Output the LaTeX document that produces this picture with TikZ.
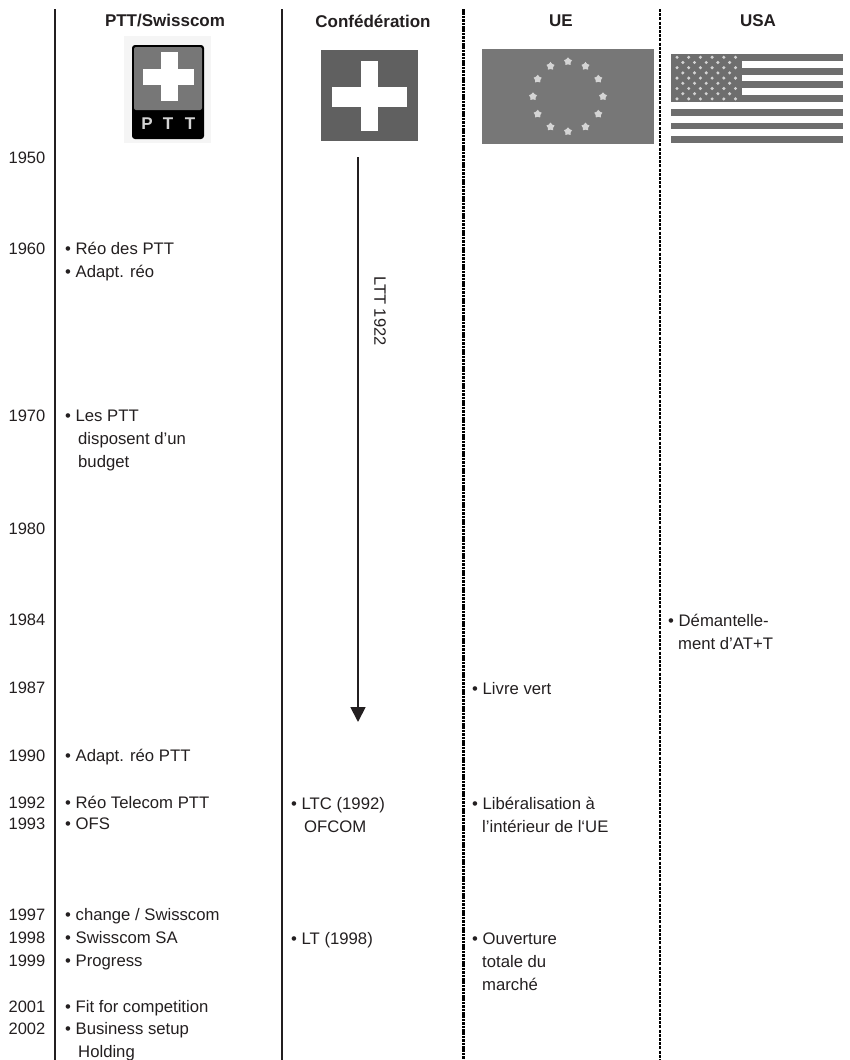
\documentclass[tikz,border=0pt]{standalone}
\usepackage{fontspec}
\setmainfont{Liberation Sans}
\usetikzlibrary{arrows.meta,positioning,shapes.geometric,calc}
\definecolor{textdark}{HTML}{231F20}
\definecolor{flaggray}{HTML}{606060}
\definecolor{eugray}{HTML}{777777}
\definecolor{usagray}{HTML}{6E6E6E}
\definecolor{stargray}{HTML}{D4D4D4}
\newcommand{\contline}{\hspace*{13pt}}
\newcommand{\contshort}{\hspace*{10pt}}
\tikzset{
  >=Latex,
  header/.style={font=\fontsize{17}{20}\selectfont\bfseries, text=textdark, inner sep=0pt},
  year/.style={anchor=north east, yshift=10.1pt, inner sep=0pt, text=textdark,
    font=\fontsize{16.5}{23}\selectfont, execute at begin node=\strut},
  item/.style={anchor=north west, yshift=10.1pt, inner sep=0pt, text=textdark, align=left,
    font=\fontsize{16.7}{23}\selectfont, execute at begin node=\strut},
  multiitem/.style={item, yshift=-4.5pt},
  rule/.style={draw=textdark, line width=2.2pt},
  dashrule/.style={draw=black, line width=3pt, dash pattern=on 2.6pt off 0.8pt},
  thindashrule/.style={draw=black, line width=2.2pt, dash pattern=on 3pt off 1.2pt},
  arrow/.style={-{Triangle[length=15pt,width=15pt]}, line width=1.8pt, draw=textdark},
  eustar/.style={star, star points=5, minimum size=8.5pt, inner sep=0pt, fill=stargray},
  pttletter/.style={font=\fontsize{17}{20}\selectfont\bfseries, text=stargray, inner sep=0pt}
}
\begin{document}
\begin{tikzpicture}[x=1pt,y=-1pt]
\useasboundingbox (0,0) rectangle (849,1060);
% column rules
\coordinate (r1a) at (55,9);
\coordinate (r1b) at (55,1060);
\coordinate (r2a) at (282,9);
\coordinate (r2b) at (282,1060);
\coordinate (r3a) at (463.5,9);
\coordinate (r3b) at (463.5,1060);
\coordinate (r4a) at (660,9);
\coordinate (r4b) at (660,1060);
\draw[rule] (r1a) -- (r1b);
\draw[rule] (r2a) -- (r2b);
\draw[dashrule] (r3a) -- (r3b);
\draw[thindashrule] (r4a) -- (r4b);
% headers
\node[header] (hptt) at (165,21) {PTT/Swisscom};
\node[header] (hconf) at (373,21) {Confédération};
\node[header] (hue) at (561,21) {UE};
\node[header] (husa) at (758,21) {USA};
% PTT logo
\fill[black!4] (124,36) rectangle (211,143);
\fill[black, rounded corners=3pt] (132,45) rectangle (204,139);
\fill[eugray, rounded corners=2pt] (134,47) rectangle (202,110);
\fill[white] (161,52) rectangle (178,101);
\fill[white] (143,69) rectangle (194,85);
\node[pttletter] (p1) at (147,124) {P};
\node[pttletter] (p2) at (168,124) {T};
\node[pttletter] (p3) at (190,124) {T};
% Swiss flag
\fill[flaggray] (321,50) rectangle (418,141);
\fill[white] (361,61) rectangle (378,131);
\fill[white] (332,87) rectangle (407,107);
% EU flag
\fill[eugray] (482,49) rectangle (654,144);
\coordinate (eucentre) at (568,96.5);
\foreach \a in {30,60,...,360}
  \node[eustar] (eu\a) at ($(eucentre)+(\a:35)$) {};
% USA flag
\foreach \s in {0,2,...,12}
  \fill[usagray] (671,{54+\s*6.85}) rectangle (843,{54+(\s+1)*6.85});
\fill[usagray] (671,54) rectangle (742,102);
\foreach \r in {0,2,...,8}
  \foreach \c in {0,...,5}
    \fill[stargray] ({677+\c*11.7},{57.3+\r*5.2}) circle (1.7);
\foreach \r in {1,3,...,7}
  \foreach \c in {0,...,4}
    \fill[stargray] ({682.8+\c*11.7},{57.3+\r*5.2}) circle (1.7);
% years
\foreach \y/\c in {1950/157,1960/248,1970/415,1980/528,1984/619,1987/687,1990/755,1992/802,1993/823,1997/914,1998/937,1999/960,2001/1006,2002/1028}
  \node[year] (y\y) at (45.5,\c) {\y};
% PTT/Swisscom
\node[item] (a1) at (65,248) {• Réo des PTT};
\node[item] (a2) at (65,271) {• Adapt. réo};
\node[multiitem] (a3) at (65,415) {• Les PTT\\\contline disposent d’un\\\contline budget};
\node[item] (a4) at (65,755) {• Adapt. réo PTT};
\node[item] (a5) at (65,802) {• Réo Telecom PTT};
\node[item] (a6) at (65,823) {• OFS};
\node[item] (a7) at (65,914) {• change / Swisscom};
\node[item] (a8) at (65,937) {• Swisscom SA};
\node[item] (a9) at (65,960) {• Progress};
\node[item] (a10) at (65,1006) {• Fit for competition};
\node[multiitem] (a11) at (65,1028) {• Business setup\\\contline Holding};
% Confederation
\coordinate (ltta) at (358,157);
\coordinate (lttb) at (358,722);
\draw[arrow] (ltta) -- (lttb);
\node[font=\fontsize{16.5}{20}\selectfont, text=textdark, rotate=-90, inner sep=0pt] (ltt) at (380,311) {LTT 1922};
\node[multiitem] (b1) at (291,803) {• LTC (1992)\\\contline OFCOM};
\node[item] (b2) at (291,938) {• LT (1998)};
% UE
\node[item] (c1) at (472,688) {• Livre vert};
\node[multiitem] (c2) at (472,803) {• Libéralisation à\\\contshort l’intérieur de l‘UE};
\node[multiitem] (c3) at (472,938) {• Ouverture\\\contshort totale du\\\contshort marché};
% USA
\node[multiitem] (d1) at (668,620) {• Démantelle-\\\contshort ment d’AT+T};
\end{tikzpicture}
\end{document}
